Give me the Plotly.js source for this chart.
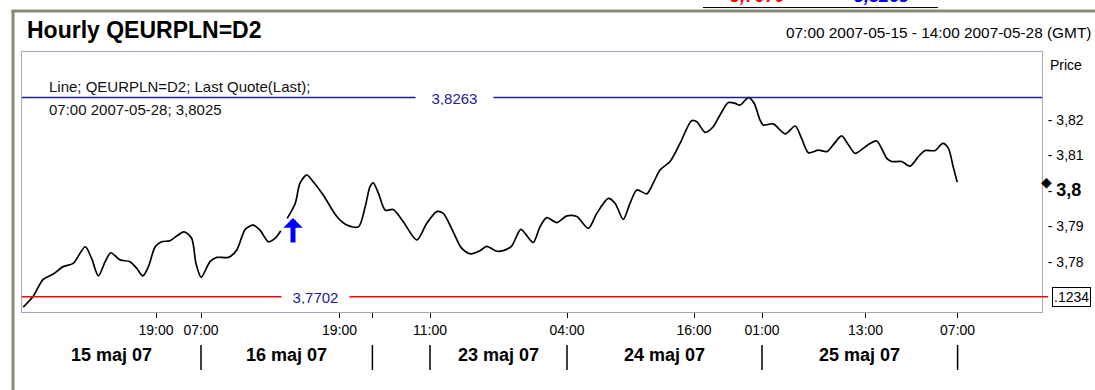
<!DOCTYPE html>
<html>
<head>
<meta charset="utf-8">
<script src="https://cdn.plot.ly/plotly-3.0.1.min.js"></script>
<style>
html,body{margin:0;padding:0;background:#fff;}
#chart{width:1095px;height:390px;}
</style>
</head>
<body>
<div id="chart"></div>
<script>
// ---- data (hourly bar index, price) ----
const barIndex = [0.3,2.7,5.3,7.8,10.3,12.8,15.8,17.4,19.1,20.8,22.2,24.5,27.0,28.7,30.2,31.6,33.3,34.9,37.0,40.5,42.4,43.5,44.8,47.0,48.7,51.6,53.7,55.8,57.8,59.5,61.6,63.3,64.7,65.5,
66.3,68.3,69.5,71.2,72.8,75.3,78.7,81.2,84.1,85.8,87.0,87.8,89.1,90.8,92.8,95.3,98.7,101.2,103.7,105.3,107.8,109.9,112.2,114.5,116.2,118.5,120.3,122.4,124.7,126.3,127.8,129.5,131.2,133.7,136.2,138.7,141.6,143.7,146.6,148.3,150.3,152.0,153.7,156.2,157.8,159.5,162.0,164.5,167.4,168.7,170.8,172.8,174.5,176.6,178.3,179.5,181.6,183.0,184.5,185.3,187.8,190.8,193.3,194.9,196.6,199.1,201.2,202.8,204.9,206.6,208.3,210.3,212.0,213.7,216.2,217.4,219.9,222.0,224.1,225.8,228.3,230.2,231.6,232.8,233.8];
const price = [3.7673,3.7702,3.7751,3.7766,3.7787,3.7796,3.7843,3.7810,3.7761,3.7801,3.7826,3.7806,3.7801,3.7782,3.7761,3.7787,3.7843,3.7857,3.7860,3.7885,3.7867,3.7796,3.7757,3.7801,3.7813,3.7813,3.7834,3.7892,3.7904,3.7890,3.7857,3.7867,3.7888,null,
3.7923,3.7965,3.8022,3.8045,3.8026,3.7989,3.7928,3.7904,3.7899,3.7956,3.8012,3.8023,3.7994,3.7946,3.7948,3.7914,3.7862,3.7909,3.7942,3.7937,3.7885,3.7839,3.7823,3.7832,3.7844,3.7831,3.7832,3.7845,3.7892,3.7873,3.7855,3.7899,3.7925,3.7911,3.7930,3.7928,3.7895,3.7937,3.7979,3.7965,3.7920,3.7965,3.8003,3.7992,3.8022,3.8059,3.8083,3.8134,3.8198,3.8195,3.8165,3.8181,3.8214,3.8249,3.8247,3.8242,3.8263,3.8248,3.8200,3.8186,3.8189,3.8161,3.8183,3.8148,3.8108,3.8115,3.8111,3.8130,3.8155,3.8130,3.8106,3.8120,3.8134,3.8141,3.8092,3.8083,3.8083,3.8070,3.8097,3.8114,3.8114,3.8134,3.8120,3.8068,3.8025];

const highLevel = 3.8263;
const lowLevel = 3.7702;
const lastPrice = 3.8025;
const signalX = 67.75;      // buy-signal arrow bar
const signalY = 3.7924;

const hourTickVals = [33.5, 44.75, 79.4, 87.6, 102, 136.25, 168, 185, 210.9, 233.9];
const hourTickText = ['19:00','07:00','19:00','','11:00','04:00','16:00','01:00','13:00','07:00'];
const dayBounds = [0, 44.75, 87.6, 102, 136.25, 185, 233.9];
const dayLabels = ['15 maj 07','16 maj 07','','23 maj 07','24 maj 07','25 maj 07'];

const priceTickVals = [3.78, 3.79, 3.80, 3.81, 3.82];
const priceTickText = ['- 3,78','- 3,79','- <span style="font-size:18px"><b>3,8</b></span>','- 3,81','- 3,82'];

const xRange = [0, 255];
const yRange = [3.76592, 3.83915];

const FONT = 'Liberation Sans, Arial, sans-serif';
const fmt = v => v.toFixed(4).replace('.', ',');

const trace = {
  x: barIndex, y: price, type: 'scatter', mode: 'lines',
  line: {color: '#000000', width: 1.7, shape: 'spline', smoothing: 0.8},
  connectgaps: false, hoverinfo: 'skip', showlegend: false
};

const shapes = [
  {type:'line', xref:'paper', yref:'y', x0:0, x1:1, y0:highLevel, y1:highLevel, line:{color:'#1c1c98', width:1.5}},
  {type:'line', xref:'paper', yref:'y', x0:0, x1:1.0059, y0:lowLevel, y1:lowLevel, line:{color:'#ff0000', width:1.5}},
  {type:'line', xref:'paper', yref:'paper', x0:-0.0088, x1:-0.0088, y0:1.1615, y1:-0.31, line:{color:'#8a8a7a', width:3}},
  {type:'line', xref:'paper', yref:'paper', x0:-0.0103, x1:1.06, y0:1.1577, y1:1.1577, line:{color:'#8a8a7a', width:3}},
  {type:'line', xref:'paper', yref:'paper', x0:0.6676, x1:0.898, y0:1.171, y1:1.171, line:{color:'#000', width:1}}
];
dayBounds.slice(1).forEach(b => shapes.push({type:'line', xref:'x', yref:'paper', x0:b, x1:b, y0:-0.127, y1:-0.223, line:{color:'#000', width:1.5}}));

const annotations = [
  {text:'<b>Hourly QEURPLN=D2</b>', xref:'paper', yref:'paper', x:0.0029, y:1.0846, xanchor:'left', yanchor:'middle', showarrow:false, font:{family:FONT, size:23, color:'#000'}},
  {text:'07:00 2007-05-15 - 14:00 2007-05-28 (GMT)', xref:'paper', yref:'paper', x:1.05, y:1.075, xanchor:'right', yanchor:'middle', showarrow:false, font:{family:FONT, size:15.4, color:'#000'}},
  {text:'<b><i>3,7970</i></b>', xref:'paper', yref:'paper', x:0.721, y:1.171, xanchor:'center', yanchor:'bottom', showarrow:false, font:{family:FONT, size:18, color:'#ff0000'}},
  {text:'<b><i>3,8263</i></b>', xref:'paper', yref:'paper', x:0.8427, y:1.171, xanchor:'center', yanchor:'bottom', showarrow:false, font:{family:FONT, size:18, color:'#0000ff'}},
  {text:'Line; QEURPLN=D2; Last Quote(Last);', xref:'paper', yref:'paper', x:0.0245, y:0.8665, xanchor:'left', yanchor:'middle', showarrow:false, font:{family:FONT, size:15, color:'#111'}},
  {text:'07:00 2007-05-28; ' + fmt(lastPrice), xref:'paper', yref:'paper', x:0.0245, y:0.777, xanchor:'left', yanchor:'middle', showarrow:false, font:{family:FONT, size:15, color:'#111'}},
  {text:'Price', xref:'paper', yref:'paper', x:1.0059, y:0.95, xanchor:'left', yanchor:'middle', showarrow:false, font:{family:FONT, size:14, color:'#000'}},
  {text:fmt(highLevel), xref:'paper', yref:'y', x:0.4245, y:highLevel, xanchor:'center', yanchor:'middle', showarrow:false, bgcolor:'#fff', width:77, height:14, borderpad:0, font:{family:FONT, size:15, color:'#1c1c98'}},
  {text:fmt(lowLevel), xref:'paper', yref:'y', x:0.288, y:lowLevel, xanchor:'center', yanchor:'middle', showarrow:false, bgcolor:'#fff', width:67, height:14, borderpad:0, font:{family:FONT, size:15, color:'#1c1c98'}},
  {text:'.1234', xref:'paper', yref:'y', x:1.0098, y:lowLevel, xanchor:'left', yanchor:'middle', showarrow:false, bgcolor:'#fff', bordercolor:'#000', borderwidth:1, borderpad:1, font:{family:FONT, size:14, color:'#000'}},
  {text:'◆', xref:'paper', yref:'y', x:1.0045, y:lastPrice, xanchor:'center', yanchor:'middle', showarrow:false, font:{family:'DejaVu Sans', size:14, color:'#000'}},
  {text:'', xref:'x', yref:'y', x:signalX, y:signalY, ax:0, ay:26, showarrow:true, arrowhead:1, arrowsize:0.65, arrowwidth:5, arrowcolor:'#0000ff', standoff:0}
];
for (let i = 0; i < dayLabels.length; i++) {
  if (!dayLabels[i]) continue;
  annotations.push({text:'<b>' + dayLabels[i] + '</b>', xref:'x', yref:'paper', x:(dayBounds[i] + dayBounds[i+1]) / 2, y:-0.165, xanchor:'center', yanchor:'middle', showarrow:false, font:{family:FONT, size:18, color:'#000'}});
}

const layout = {
  width: 1095, height: 390,
  margin: {l:22, r:53, t:52, b:78},
  paper_bgcolor: '#ffffff', plot_bgcolor: '#ffffff',
  showlegend: false,
  font: {family: FONT, size: 14, color: '#000'},
  xaxis: {
    range: xRange, showgrid: false, zeroline: false,
    showline: true, linecolor: '#a4a4c4', linewidth: 1, mirror: true,
    tickmode: 'array', tickvals: hourTickVals, ticktext: hourTickText,
    ticks: 'outside', ticklen: 5, tickcolor: '#000', tickwidth: 1,
    tickfont: {family: FONT, size: 14, color: '#000'}
  },
  yaxis: {
    range: yRange, side: 'right', showgrid: false, zeroline: false,
    showline: true, linecolor: '#a4a4c4', linewidth: 1, mirror: true,
    tickmode: 'array', tickvals: priceTickVals, ticktext: priceTickText,
    ticks: '', ticklabelstandoff: 2,
    tickfont: {family: FONT, size: 14, color: '#000'}
  },
  shapes: shapes,
  annotations: annotations
};

Plotly.newPlot('chart', [trace], layout, {displayModeBar: false, staticPlot: true});
</script>
</body>
</html>
